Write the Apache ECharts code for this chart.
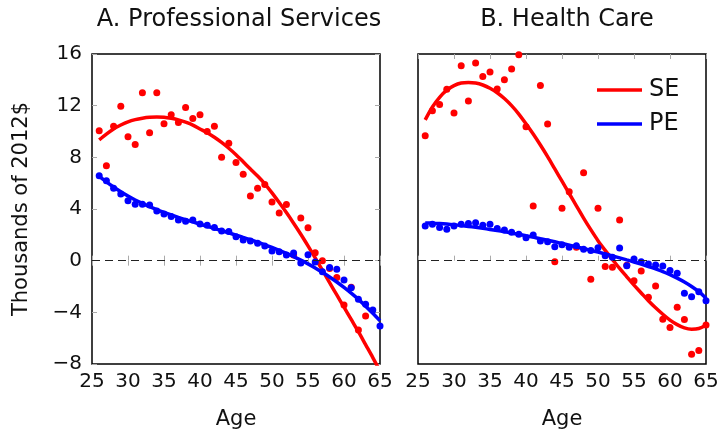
<!DOCTYPE html>
<html>
<head>
<meta charset="utf-8">
<script src="https://cdn.jsdelivr.net/npm/echarts@6/dist/echarts.min.js"></script>
<style>
  html, body { margin: 0; padding: 0; background: #fff; }
  #chart { width: 720px; height: 433px; }
</style>
</head>
<body>
<div id="chart"></div>
<script>
// ages 26..65
const ages = [26, 27, 28, 29, 30, 31, 32, 33, 34, 35, 36, 37, 38, 39, 40, 41, 42, 43, 44, 45,
  46, 47, 48, 49, 50, 51, 52, 53, 54, 55, 56, 57, 58, 59, 60, 61, 62, 63, 64, 65];

// A. Professional Services
const proSE = [10.06, 7.35, 10.4, 11.95, 9.6, 9.0, 13.0, 9.9, 13.0, 10.6, 11.3, 10.7, 11.85, 11.0, 11.3, 10.0, 10.4, 8.0, 9.1, 7.6,
  6.7, 5.0, 5.6, 5.9, 4.55, 3.7, 4.35, 0.44, 3.3, 2.55, 0.62, 0.0, -0.6, -1.31, -3.43, -2.05, -5.36, -4.28, null, null];
const proPE = [6.58, 6.19, 5.6, 5.16, 4.64, 4.36, 4.36, 4.31, 3.85, 3.61, 3.41, 3.15, 3.05, 3.15, 2.84, 2.74, 2.56, 2.3, 2.25, 1.86,
  1.6, 1.52, 1.35, 1.14, 0.75, 0.7, 0.44, 0.6, -0.18, 0.46, -0.1, -0.85, -0.52, -0.66, -1.49, -2.1, -2.99, -3.38, -3.82, -5.05];
const proSEFit = [9.35, 9.8, 10.2, 10.5, 10.75, 10.92, 11.03, 11.1, 11.12, 11.1, 11.02, 10.9, 10.72, 10.5, 10.2, 9.9, 9.55, 9.15, 8.7, 8.2,
  7.65, 7.1, 6.55, 5.95, 5.25, 4.5, 3.72, 2.9, 2.05, 1.15, 0.22, -0.74, -1.7, -2.65, -3.6, -4.55, -5.5, -6.5, -7.5, -8.55];
const proPEFit = [6.55, 6.1, 5.7, 5.33, 5.0, 4.7, 4.43, 4.18, 3.95, 3.74, 3.54, 3.35, 3.17, 3.0, 2.83, 2.66, 2.49, 2.32, 2.15, 1.98,
  1.8, 1.62, 1.43, 1.23, 1.02, 0.8, 0.56, 0.31, 0.04, -0.25, -0.56, -0.9, -1.26, -1.65, -2.07, -2.52, -3.0, -3.52, -4.07, -4.65];

// B. Health Care
const hcSE = [9.67, 11.6, 12.1, 13.27, 11.43, 15.1, 12.36, 15.3, 14.25, 14.6, 13.3, 14.0, 14.84, 15.95, 10.37, 4.23, 13.57, 10.58, -0.08, 4.06,
  5.34, 1.04, 6.8, -1.44, 4.06, -0.46, -0.51, 3.15, -0.35, -1.55, -0.8, -2.83, -1.96, -4.54, -5.18, -3.6, -4.56, -7.25, -6.96, -4.98];
const hcPE = [2.69, 2.81, 2.56, 2.43, 2.69, 2.81, 2.87, 2.94, 2.74, 2.81, 2.5, 2.38, 2.2, 2.04, 1.78, 1.99, 1.52, 1.47, 1.08, 1.24,
  1.04, 1.16, 0.88, 0.78, 1.0, 0.39, 0.26, 0.98, -0.39, 0.13, -0.08, -0.26, -0.33, -0.41, -0.77, -0.98, -2.52, -2.79, -2.4, -3.1];
const hcSEFit = [10.9, 11.9, 12.65, 13.2, 13.55, 13.75, 13.8, 13.75, 13.6, 13.35, 13.0, 12.55, 12.0, 11.35, 10.6, 9.8, 8.95, 8.05, 7.1, 6.15,
  5.2, 4.25, 3.3, 2.4, 1.55, 0.8, 0.1, -0.6, -1.25, -1.9, -2.5, -3.1, -3.65, -4.15, -4.6, -4.95, -5.2, -5.3, -5.25, -5.0];
const hcPEFit = [2.92, 2.9, 2.87, 2.83, 2.78, 2.72, 2.65, 2.58, 2.5, 2.42, 2.33, 2.24, 2.14, 2.04, 1.93, 1.82, 1.7, 1.58, 1.46, 1.33,
  1.2, 1.07, 0.94, 0.8, 0.66, 0.52, 0.37, 0.22, 0.06, -0.1, -0.27, -0.45, -0.64, -0.84, -1.08, -1.35, -1.65, -2.0, -2.4, -2.9];

const RED = '#ff0000';
const BLUE = '#0000ff';
const FONT = 'DejaVu Sans';

const pairs = (ys) => ages.map((a, i) => [a, ys[i]]);
const minus = (v) => String(v).replace('-', '\u2212');

const chart = echarts.init(document.getElementById('chart'));

function xAxes(grid, top) {
  return {
    type: 'value', gridIndex: grid, min: 25, max: 65, interval: 5,
    position: top ? 'top' : 'bottom',
    axisLine: { show: false },
    axisTick: { show: true, inside: true, length: 5, lineStyle: { color: '#aaa', width: 1 } },
    axisLabel: { show: !top, color: '#111', fontSize: 20, fontFamily: FONT, margin: 8 },
    splitLine: { show: false },
    name: top ? '' : 'Age', nameLocation: 'middle', nameGap: 45,
    nameTextStyle: { color: '#111', fontSize: 21, fontFamily: FONT }
  };
}

function yAxes(grid, right, ticks, labels) {
  return {
    type: 'value', gridIndex: grid, min: -8, max: 16, interval: 4,
    position: right ? 'right' : 'left',
    axisLine: { show: false },
    axisTick: { show: ticks, inside: true, length: 5, lineStyle: { color: '#aaa', width: 1 } },
    axisLabel: { show: labels, color: '#111', fontSize: 20, fontFamily: FONT, margin: 10, formatter: minus },
    splitLine: { show: false },
    name: labels ? 'Thousands of 2012$' : '', nameLocation: 'middle', nameGap: 60,
    nameTextStyle: { color: '#111', fontSize: 21, fontFamily: FONT }
  };
}

function panel(grid, se, pe, seFit, peFit) {
  const xi = grid * 2;
  const yi = grid === 0 ? 0 : 2;
  return [
    { name: 'SE dots', type: 'scatter', xAxisIndex: xi, yAxisIndex: yi, data: pairs(se),
      symbolSize: 7, itemStyle: { color: RED, opacity: 1 }, silent: true, z: 2,
      markLine: { silent: true, symbol: 'none', label: { show: false },
        lineStyle: { color: '#222', width: 1, type: [8, 5] }, data: [{ yAxis: 0 }] } },
    { name: 'SE', type: 'line', xAxisIndex: xi, yAxisIndex: yi, data: pairs(seFit),
      showSymbol: false, smooth: 0.3, lineStyle: { color: RED, width: 3.5 }, itemStyle: { color: RED }, z: 3 },
    { name: 'PE dots', type: 'scatter', xAxisIndex: xi, yAxisIndex: yi, data: pairs(pe),
      symbolSize: 7, itemStyle: { color: BLUE, opacity: 1 }, silent: true, z: 4 },
    { name: 'PE', type: 'line', xAxisIndex: xi, yAxisIndex: yi, data: pairs(peFit),
      showSymbol: false, smooth: 0.3, lineStyle: { color: BLUE, width: 3.5 }, itemStyle: { color: BLUE }, z: 5 }
  ];
}

const option = {
  backgroundColor: '#fff',
  animation: false,
  title: [
    { text: 'A. Professional Services', left: 234, top: 3, textAlign: 'center',
      textStyle: { fontSize: 24, fontWeight: 'normal', color: '#111', fontFamily: FONT } },
    { text: 'B. Health Care', left: 562, top: 3, textAlign: 'center',
      textStyle: { fontSize: 24, fontWeight: 'normal', color: '#111', fontFamily: FONT } }
  ],
  legend: {
    data: ['SE', 'PE'], orient: 'vertical', left: 592, top: 73,
    icon: 'rect', itemWidth: 45, itemHeight: 3.5, itemGap: 10,
    textStyle: { fontSize: 24, color: '#111', fontFamily: FONT, padding: [0, 0, 0, 2] },
    selectedMode: false
  },
  grid: [
    { left: 92, top: 54, width: 288, height: 310, outerBoundsMode: 'none',
      show: true, borderColor: '#000', borderWidth: 1.5, backgroundColor: 'transparent' },
    { left: 418, top: 54, width: 288, height: 310, outerBoundsMode: 'none',
      show: true, borderColor: '#000', borderWidth: 1.5, backgroundColor: 'transparent' }
  ],
  xAxis: [xAxes(0, false), xAxes(0, true), xAxes(1, false), xAxes(1, true)],
  yAxis: [yAxes(0, false, true, true), yAxes(0, true, true, false), yAxes(1, false, false, false)],
  series: [].concat(
    panel(0, proSE, proPE, proSEFit, proPEFit),
    panel(1, hcSE, hcPE, hcSEFit, hcPEFit)
  )
};

chart.setOption(option);
</script>
</body>
</html>
